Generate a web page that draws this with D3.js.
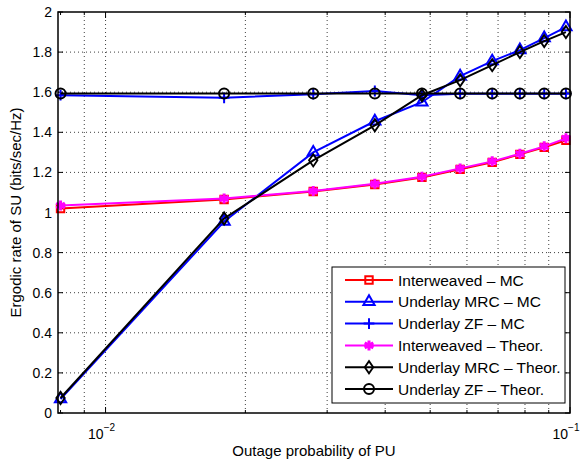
<!DOCTYPE html>
<html>
<head>
<meta charset="utf-8">
<script src="https://cdn.jsdelivr.net/npm/d3@7"></script>
<style>
  body { margin: 0; background: #fff; }
  svg { display: block; font-family: "Liberation Sans", Arial, sans-serif; }
</style>
</head>
<body>
<svg id="chart"></svg>
<script>
// outage probability of PU (x axis, log)
var outage = [0.008, 0.018, 0.028, 0.038, 0.048, 0.058, 0.068, 0.078, 0.088, 0.098]

// ergodic rate of SU
var interMC = [1.02, 1.065, 1.105, 1.14, 1.175, 1.215, 1.25, 1.29, 1.325, 1.36]
var mrcMC = [0.07, 0.955, 1.30, 1.455, 1.55, 1.68, 1.755, 1.81, 1.87, 1.925]
var zfMC = [1.585, 1.572, 1.59, 1.606, 1.585, 1.592, 1.592, 1.592, 1.592, 1.592]
var interTh = [1.035, 1.07, 1.107, 1.143, 1.178, 1.22, 1.255, 1.293, 1.33, 1.37]
var mrcTh = [0.075, 0.97, 1.26, 1.435, 1.585, 1.66, 1.735, 1.80, 1.855, 1.90]
var zfTh = [1.593, 1.593, 1.593, 1.593, 1.593, 1.593, 1.593, 1.593, 1.593, 1.593]

var seriesNames = ["Interweaved \u2013 MC", "Underlay MRC \u2013 MC", "Underlay ZF \u2013 MC",
    "Interweaved \u2013 Theor.", "Underlay MRC \u2013 Theor.", "Underlay ZF \u2013 Theor."]
var seriesColors = ["#ff0000", "#0000ff", "#0000ff", "#ff00ff", "#000000", "#000000"]
var seriesMarkers = ["square", "triangle", "plus", "star", "diamond", "circle"]
var seriesValues = [interMC, mrcMC, zfMC, interTh, mrcTh, zfTh]

var yTicks = [0, 0.2, 0.4, 0.6, 0.8, 1, 1.2, 1.4, 1.6, 1.8, 2]
var xMajorTicks = [0.01, 0.1]

var dimensions = {
    width: 583,
    height: 462,
    margin: { top: 12, bottom: 49, right: 13, left: 58 }
}

var svg = d3.select("#chart")
    .attr("width", dimensions.width)
    .attr("height", dimensions.height)

var x0 = dimensions.margin.left
var x1 = dimensions.width - dimensions.margin.right
var y0 = dimensions.height - dimensions.margin.bottom
var y1 = dimensions.margin.top

var xScale = d3.scaleLog()
    .domain([0.0079, 0.1])
    .range([x0, x1])

var yScale = d3.scaleLinear()
    .domain([0, 2])
    .range([y0, y1])

// minor log ticks 0.008 ... 0.1
var xMinorTicks = []
for (var k = 8; k <= 9; k++) xMinorTicks.push(k / 1000)
for (var k = 1; k <= 10; k++) xMinorTicks.push(k / 100)

// grid
var grid = svg.append("g")
    .attr("stroke", "#000")
    .attr("stroke-width", 1)
    .attr("stroke-dasharray", "1,3")
    .attr("opacity", 0.75)

grid.selectAll("line.gy")
    .data(yTicks.filter(d => d > 0 && d < 2))
    .enter()
    .append("line")
    .attr("x1", x0).attr("x2", x1)
    .attr("y1", d => yScale(d)).attr("y2", d => yScale(d))

grid.selectAll("line.gx")
    .data(xMinorTicks.filter(d => d > 0.0085 && d < 0.1))
    .enter()
    .append("line")
    .attr("x1", d => xScale(d)).attr("x2", d => xScale(d))
    .attr("y1", y0).attr("y2", y1)

// ticks (inward, both sides)
var ticks = svg.append("g").attr("stroke", "#000").attr("stroke-width", 1)
yTicks.forEach(function (d) {
    ticks.append("line").attr("x1", x0).attr("x2", x0 + 5).attr("y1", yScale(d)).attr("y2", yScale(d))
    ticks.append("line").attr("x1", x1).attr("x2", x1 - 5).attr("y1", yScale(d)).attr("y2", yScale(d))
})
xMinorTicks.forEach(function (d) {
    var len = xMajorTicks.indexOf(d) >= 0 ? 6 : 3
    ticks.append("line").attr("x1", xScale(d)).attr("x2", xScale(d)).attr("y1", y0).attr("y2", y0 - len)
    ticks.append("line").attr("x1", xScale(d)).attr("x2", xScale(d)).attr("y1", y1).attr("y2", y1 + len)
})

// tick labels
svg.append("g")
    .selectAll("text")
    .data(yTicks)
    .enter()
    .append("text")
    .attr("x", x0 - 6)
    .attr("y", d => yScale(d))
    .attr("dy", "0.36em")
    .attr("text-anchor", "end")
    .style("font-size", "14px")
    .text(d => d3.format("~g")(d))

var xLab = svg.append("g")
    .selectAll("text")
    .data(xMajorTicks)
    .enter()
    .append("text")
    .attr("x", d => xScale(d) - 4)
    .attr("y", y0 + 26)
    .attr("text-anchor", "middle")
    .style("font-size", "14px")
xLab.append("tspan").text("10")
xLab.append("tspan")
    .attr("dy", -8)
    .style("font-size", "10px")
    .text(d => "\u2212" + Math.round(-Math.log10(d)))

// axis titles
svg.append("text")
    .attr("x", (x0 + x1) / 2)
    .attr("y", dimensions.height - 6)
    .attr("text-anchor", "middle")
    .style("font-size", "15px")
    .text("Outage probability of PU")

svg.append("text")
    .attr("transform", "translate(21," + ((y0 + y1) / 2) + ") rotate(-90)")
    .attr("text-anchor", "middle")
    .style("font-size", "15px")
    .text("Ergodic rate of SU (bits/sec/Hz)")

// markers
function drawMarker(g, type, color) {
    if (type === "circle") {
        g.append("circle").attr("r", 5).attr("fill", "none").attr("stroke", color).attr("stroke-width", 2)
    } else if (type === "diamond") {
        g.append("path")
            .attr("d", d3.symbol(d3.symbolDiamond2, 45)())
            .attr("transform", "scale(1,1.45)")
            .attr("fill", "none").attr("stroke", color).attr("stroke-width", 1.6)
    } else {
        var sym = { square: d3.symbolSquare2, triangle: d3.symbolTriangle2, plus: d3.symbolPlus, star: d3.symbolAsterisk }[type]
        var size = { square: 70, triangle: 90, plus: 40, star: 70 }[type]
        g.append("path")
            .attr("d", d3.symbol(sym, size)())
            .attr("fill", "none").attr("stroke", color)
            .attr("stroke-width", type === "star" ? 3 : 2)
    }
}

var line = d3.line()
    .x((d, i) => xScale(outage[i]))
    .y(d => yScale(d))

var plot = svg.append("g")
seriesValues.forEach(function (vals, s) {
    plot.append("path")
        .datum(vals)
        .attr("d", line)
        .attr("fill", "none")
        .attr("stroke", seriesColors[s])
        .attr("stroke-width", 2)
    plot.append("g")
        .selectAll("g")
        .data(vals)
        .enter()
        .append("g")
        .attr("transform", (d, i) => "translate(" + xScale(outage[i]) + "," + yScale(d) + ")")
        .each(function () { drawMarker(d3.select(this), seriesMarkers[s], seriesColors[s]) })
})

// axes box
svg.append("rect")
    .attr("x", x0).attr("y", y1)
    .attr("width", x1 - x0).attr("height", y0 - y1)
    .attr("fill", "none")
    .attr("stroke", "#000")
    .attr("stroke-width", 1.5)

// legend
var legend = svg.append("g").attr("transform", "translate(332,267)")
legend.append("rect")
    .attr("width", 233).attr("height", 136)
    .attr("fill", "#fff").attr("stroke", "#000").attr("stroke-width", 1)

var rows = legend.selectAll("g.row")
    .data(seriesNames)
    .enter()
    .append("g")
    .attr("transform", (d, i) => "translate(0," + (13 + i * 21.8) + ")")
rows.append("line")
    .attr("x1", 13).attr("x2", 61)
    .attr("stroke", (d, i) => seriesColors[i])
    .attr("stroke-width", 2)
rows.append("g")
    .attr("transform", "translate(37,0)")
    .each(function (d, i) { drawMarker(d3.select(this), seriesMarkers[i], seriesColors[i]) })
rows.append("text")
    .attr("x", 66)
    .attr("dy", "0.36em")
    .style("font-size", "15.5px")
    .text(d => d)
</script>
</body>
</html>
